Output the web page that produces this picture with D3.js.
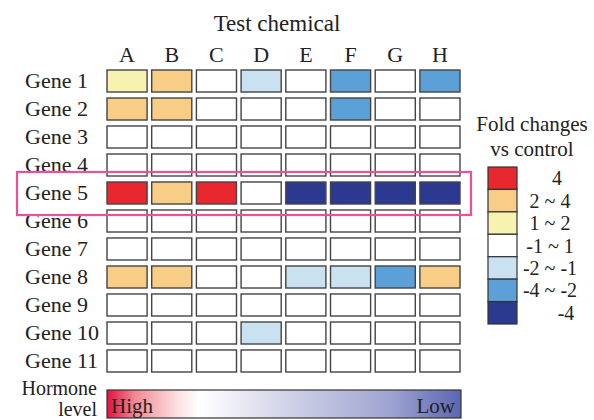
<!DOCTYPE html>
<html><head><meta charset="utf-8">
<script src="https://cdn.jsdelivr.net/npm/d3@7"></script>
<style>body{margin:0;background:#fff}svg{display:block}text{font-family:"Liberation Serif","Times New Roman",serif;fill:#222}</style>
</head><body><svg id="c" width="594" height="420"></svg>
<script>
const chemicals = ["A","B","C","D","E","F","G","H"];
const genes = ["Gene 1","Gene 2","Gene 3","Gene 4","Gene 5","Gene 6","Gene 7","Gene 8","Gene 9","Gene 10","Gene 11"];
// fold-change class: 3 = >4, 2 = 2~4, 1 = 1~2, 0 = -1~1, -1 = -2~-1, -2 = -4~-2, -3 = < -4
const foldClass = [
  [1, 2, 0, -1, 0, -2, 0, -2],
  [2, 2, 0, 0, 0, -2, 0, 0],
  [0, 0, 0, 0, 0, 0, 0, 0],
  [0, 0, 0, 0, 0, 0, 0, 0],
  [3, 2, 3, 0, -3, -3, -3, -3],
  [0, 0, 0, 0, 0, 0, 0, 0],
  [0, 0, 0, 0, 0, 0, 0, 0],
  [2, 2, 0, 0, -1, -1, -2, 2],
  [0, 0, 0, 0, 0, 0, 0, 0],
  [0, 0, 0, -1, 0, 0, 0, 0],
  [0, 0, 0, 0, 0, 0, 0, 0]
];
const legendClasses = [3, 2, 1, 0, -1, -2, -3];
const legendLabels = ["4", "2 ~ 4", "1 ~ 2", "-1 ~ 1", "-2 ~ -1", "-4 ~ -2", "-4"];
const classColors = ["#2b3990", "#5ba1d8", "#c9e1f1", "#ffffff", "#f7f2b0", "#f8cd85", "#e8282e"];

const svg = d3.select("#c");
const color = d3.scaleOrdinal().domain([-3,-2,-1,0,1,2,3]).range(classColors);
const x = d3.scaleBand().domain(chemicals).range([107, 460]).paddingInner(0.103);
const y = d3.scaleBand().domain(genes).range([70, 372]).paddingInner(0.214);

svg.append("text").attr("x", 277).attr("y", 31).attr("text-anchor", "middle")
  .style("font-size", "23px").text("Test chemical");

const xAxis = d3.axisTop(x).tickSize(0).tickPadding(0);
const gx = svg.append("g").attr("transform", "translate(0,62)").call(xAxis);
gx.select(".domain").remove();
gx.selectAll("text").attr("y", 0).attr("dy", 0).style("font-size", "22px")
  .style("font-family", '"Liberation Serif",serif').attr("fill", "#222");

svg.append("g").selectAll("text").data(genes).join("text")
  .attr("x", 25).attr("y", d => y(d) + y.bandwidth() / 2 + 7)
  .style("font-size", "22px").text(d => d);

const cells = [];
foldClass.forEach((row, i) => row.forEach((v, j) => cells.push({g: genes[i], c: chemicals[j], v})));
svg.append("g").selectAll("rect").data(cells).join("rect")
  .attr("x", d => x(d.c)).attr("y", d => y(d.g))
  .attr("width", x.bandwidth()).attr("height", y.bandwidth())
  .attr("fill", d => color(d.v)).attr("stroke", "#444").attr("stroke-width", 1.4);

// highlight Gene 5
svg.append("rect").attr("x", 17).attr("y", y("Gene 5") - 10)
  .attr("width", 454).attr("height", y.bandwidth() + 21)
  .attr("fill", "none").attr("stroke", "#ec4f9c").attr("stroke-width", 2.2);

// legend
svg.append("text").attr("x", 532).attr("y", 131).attr("text-anchor", "middle")
  .style("font-size", "21px").text("Fold changes");
svg.append("text").attr("x", 532).attr("y", 156).attr("text-anchor", "middle")
  .style("font-size", "21px").text("vs control");
const ly = d3.scaleBand().domain(legendClasses).range([167, 324]);
svg.append("g").selectAll("rect").data(legendClasses).join("rect")
  .attr("x", 488).attr("y", d => ly(d)).attr("width", 29).attr("height", ly.bandwidth())
  .attr("fill", d => color(d)).attr("stroke", "#333").attr("stroke-width", 1.2);
svg.append("g").selectAll("text").data(legendClasses).join("text")
  .attr("x", (d, i) => (i === 0 ? 557 : i === 6 ? 566 : 550))
  .attr("y", d => ly(d) + ly.bandwidth() / 2 + 7)
  .attr("text-anchor", "middle").style("font-size", "20px")
  .text((d, i) => legendLabels[i]);

// hormone bar
const defs = svg.append("defs");
const grad = defs.append("linearGradient").attr("id", "hg");
[[0, "#e5103f"], [0.08, "#f28a94"], [0.2, "#fbe1e2"], [0.26, "#ffffff"], [0.5, "#d2d4e9"], [0.8, "#9ea4d1"], [1, "#5a66b2"]]
  .forEach(([o, c]) => grad.append("stop").attr("offset", o).attr("stop-color", c));
svg.append("rect").attr("x", 107).attr("y", 390).attr("width", 354).attr("height", 28)
  .attr("fill", "url(#hg)").attr("stroke", "#333").attr("stroke-width", 1.2);
svg.append("text").attr("x", 111).attr("y", 413).style("font-size", "21px").text("High");
svg.append("text").attr("x", 455).attr("y", 413).attr("text-anchor", "end").style("font-size", "21px").text("Low");
svg.append("text").attr("x", 97).attr("y", 395).attr("text-anchor", "end").style("font-size", "20px").text("Hormone");
svg.append("text").attr("x", 97).attr("y", 416).attr("text-anchor", "end").style("font-size", "20px").text("level");
</script></body></html>
